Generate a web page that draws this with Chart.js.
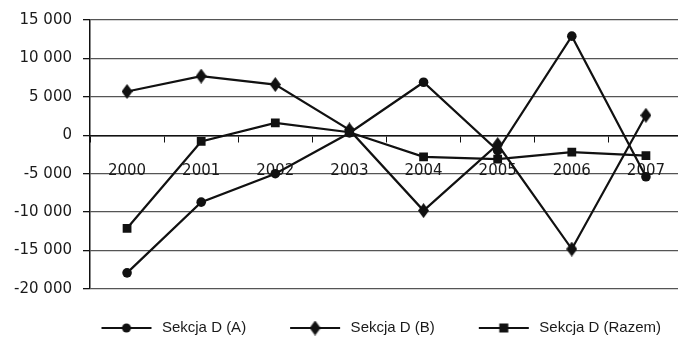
<!DOCTYPE html>
<html>
<head>
<meta charset="utf-8">
<script src="https://cdn.jsdelivr.net/npm/chart.js@4/dist/chart.umd.min.js"></script>
<style>
  html, body { margin: 0; padding: 0; background: #fff; overflow: hidden; }
  canvas { display: block; }
</style>
</head>
<body>
<canvas id="c" width="690" height="338"></canvas>
<script>
// Wynik sekcji D w latach 2000-2007
const years = ['2000', '2001', '2002', '2003', '2004', '2005', '2006', '2007'];
const sekcjaA = [-17900, -8700, -5000, 300, 6900, -2000, 12900, -5400];
const sekcjaB = [5700, 7700, 6600, 700, -9800, -1200, -14800, 2600];
const sekcjaRazem = [-12100, -800, 1600, 400, -2800, -3100, -2200, -2650];
const seriesNames = ['Sekcja D (A)', 'Sekcja D (B)', 'Sekcja D (Razem)'];
const yTicks = { min: -20000, max: 15000, step: 5000 };

const INK = '#111';
const FONT = 'Liberation Sans, Arial, sans-serif';
const TICK_FONT = 'DejaVu Sans, Verdana, sans-serif';

// tall diamond marker
function diamondImage(w, h) {
  const c = document.createElement('canvas');
  c.width = w; c.height = h;
  const g = c.getContext('2d');
  g.fillStyle = INK;
  g.beginPath();
  g.moveTo(w / 2, 0); g.lineTo(w, h / 2); g.lineTo(w / 2, h); g.lineTo(0, h / 2);
  g.closePath(); g.fill();
  return c;
}
const diamond = diamondImage(11, 15);

// legend swatch: line with the series marker in the middle
const SW_LEAD = 19, SW_LINE = 50, SW_W = SW_LEAD + SW_LINE + 3, SW_H = 16;
function swatch(kind) {
  const c = document.createElement('canvas');
  c.width = SW_W; c.height = SW_H;
  const g = c.getContext('2d');
  const cy = SW_H / 2, cx = SW_LEAD + SW_LINE / 2;
  g.strokeStyle = INK; g.lineWidth = 2;
  g.beginPath(); g.moveTo(SW_LEAD, cy); g.lineTo(SW_LEAD + SW_LINE, cy); g.stroke();
  g.fillStyle = INK;
  if (kind === 'circle') {
    g.beginPath(); g.arc(cx, cy, 4.5, 0, Math.PI * 2); g.fill();
  } else if (kind === 'diamond') {
    g.drawImage(diamond, cx - 5.5, cy - 7.5);
  } else {
    g.fillRect(cx - 4.5, cy - 4.5, 9, 9);
  }
  return c;
}
const swatches = [swatch('circle'), swatch('diamond'), swatch('rect')];

function fmt(v) {
  const s = String(Math.abs(v)).replace(/\B(?=(\d{3})+(?!\d))/g, ' ');
  return (v < 0 ? '-' : '') + s;
}

const lineBase = { borderColor: INK, backgroundColor: INK, borderWidth: 2.2, tension: 0,
                   pointBorderWidth: 0, pointHoverRadius: 0 };

new Chart(document.getElementById('c'), {
  type: 'line',
  data: {
    labels: years,
    datasets: [
      Object.assign({ label: seriesNames[0], data: sekcjaA, pointStyle: 'circle', pointRadius: 4.8 }, lineBase),
      Object.assign({ label: seriesNames[1], data: sekcjaB, pointStyle: diamond, pointRadius: 7 }, lineBase),
      Object.assign({ label: seriesNames[2], data: sekcjaRazem, pointStyle: 'rect', pointRadius: 6.2 }, lineBase)
    ]
  },
  options: {
    responsive: false,
    devicePixelRatio: 1,
    animation: false,
    events: [],
    layout: { padding: { top: 20, left: 12, right: 4, bottom: -7.5 } },
    scales: {
      x: {
        type: 'category',
        offset: true,
        position: { y: 0 },
        border: { display: true, color: INK, width: 1.5 },
        grid: { drawOnChartArea: false, drawTicks: true, tickLength: 6, color: INK, offset: true },
        ticks: { color: '#1a1a1a', font: { family: TICK_FONT, size: 15 }, padding: 21, maxRotation: 0 }
      },
      xSpace: {
        type: 'category',
        position: 'bottom',
        display: true,
        grid: { display: false },
        border: { display: false },
        ticks: { display: false },
        afterFit: s => { s.height = 6.5; }
      },
      y: {
        min: yTicks.min,
        max: yTicks.max,
        border: { display: true, color: INK, width: 1.5 },
        grid: { color: '#555', lineWidth: 1.3, tickLength: 7, tickColor: INK },
        ticks: { stepSize: yTicks.step, color: '#1a1a1a', font: { family: TICK_FONT, size: 15 },
                 padding: 11, callback: v => fmt(v) },
        afterFit: s => { s.width = 78; }
      }
    },
    plugins: {
      tooltip: { enabled: false },
      legend: {
        position: 'bottom',
        align: 'end',
        labels: {
          color: '#1a1a1a',
          font: { family: FONT, size: 15 },
          usePointStyle: true,
          pointStyleWidth: SW_W,
          padding: 25,
          generateLabels: chart => chart.data.datasets.map((ds, i) => ({
            text: ds.label, pointStyle: swatches[i], fillStyle: INK, strokeStyle: INK,
            lineWidth: 0, hidden: false, datasetIndex: i, fontColor: '#1a1a1a'
          }))
        }
      }
    }
  }
});
</script>
</body>
</html>
